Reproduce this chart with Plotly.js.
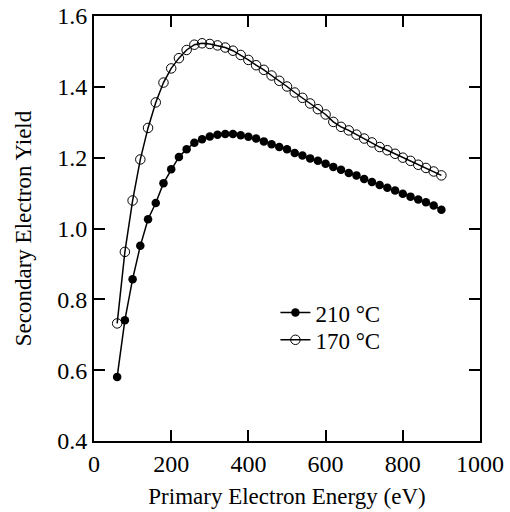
<!DOCTYPE html>
<html>
<head>
<meta charset="utf-8">
<script src="https://cdn.plot.ly/plotly-3.0.1.min.js"></script>
<style>html,body{margin:0;padding:0;background:#fff;}#chart{width:510px;height:512px;}</style>
</head>
<body>
<div id="chart"></div>
<script>
var energy = [60,80,100,120,140,160,180,200,220,240,260,280,300,320,340,360,380,400,420,440,460,480,500,520,540,560,580,600,620,640,660,680,700,720,740,760,780,800,820,840,860,880,900];
var yield210 = [0.581,0.741,0.857,0.951,1.026,1.072,1.128,1.167,1.202,1.224,1.242,1.252,1.260,1.265,1.267,1.267,1.263,1.259,1.254,1.246,1.238,1.230,1.224,1.213,1.206,1.198,1.191,1.183,1.174,1.166,1.157,1.150,1.140,1.131,1.123,1.115,1.107,1.098,1.090,1.082,1.074,1.065,1.053];
var yield170 = [0.732,0.934,1.079,1.195,1.284,1.356,1.412,1.452,1.481,1.504,1.519,1.523,1.521,1.517,1.511,1.502,1.490,1.476,1.461,1.448,1.432,1.417,1.401,1.384,1.369,1.353,1.337,1.322,1.301,1.287,1.277,1.265,1.254,1.243,1.230,1.221,1.211,1.200,1.191,1.180,1.171,1.161,1.150];
var names = ['210 °C','170 °C'];

var font = {family: '"Liberation Serif", "Times New Roman", serif', size: 23, color: '#000'};
var tickFont = {family: '"Liberation Serif", "Times New Roman", serif', size: 24, color: '#000'};
var traces = [
  {x: energy, y: yield210, name: names[0], legend: 'legend', mode: 'lines+markers', type: 'scatter',
   line: {color: '#000', width: 1.5}, marker: {symbol: 'circle', size: 8.5, color: '#000'}},
  {x: energy, y: yield170, name: names[1], legend: 'legend2', mode: 'lines+markers', type: 'scatter',
   line: {color: '#000', width: 1.5}, marker: {symbol: 'circle-open', size: 9.5, color: '#000', line: {width: 1}}}
];
var axisCommon = {showgrid: false, zeroline: false, showline: true, linecolor: '#000', linewidth: 2,
  mirror: 'ticks', ticks: 'inside', ticklen: 11, tickwidth: 2, tickcolor: '#000', tickfont: tickFont};
var legendCommon = {xanchor: 'left', yanchor: 'middle', bgcolor: 'rgba(0,0,0,0)', font: font, borderwidth: 0};
var layout = {
  width: 510, height: 512,
  margin: {l: 94, r: 30, t: 16, b: 71},
  paper_bgcolor: '#fff', plot_bgcolor: '#fff',
  font: font,
  showlegend: true,
  legend: Object.assign({}, legendCommon, {x: 0.47, y: 0.302}),
  legend2: Object.assign({}, legendCommon, {x: 0.47, y: 0.238}),
  xaxis: Object.assign({}, axisCommon, {range: [0, 1000], dtick: 200, tick0: 0,
    title: {text: 'Primary Electron Energy (eV)', font: font, standoff: 12}}),
  yaxis: Object.assign({}, axisCommon, {range: [0.4, 1.6], dtick: 0.2, tick0: 0.4, tickformat: '.1f',
    title: {text: 'Secondary Electron Yield', font: font, standoff: 19}})
};
Plotly.newPlot('chart', traces, layout, {displayModeBar: false, staticPlot: true});
</script>
</body>
</html>
